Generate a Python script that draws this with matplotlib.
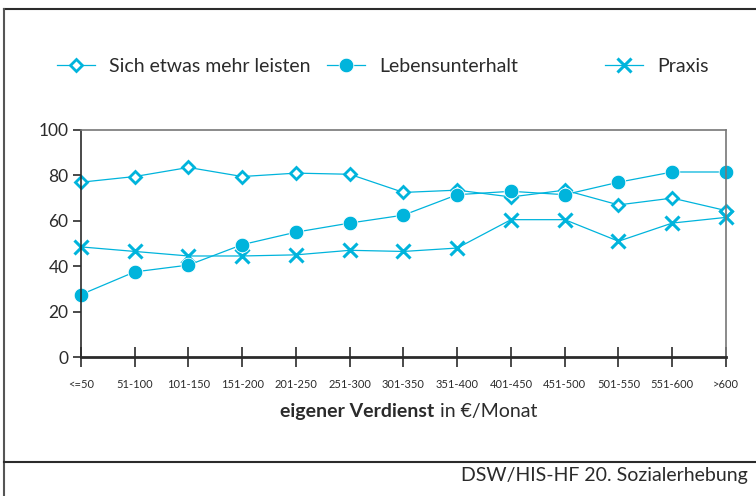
import matplotlib.pyplot as plt
from matplotlib.lines import Line2D
import numpy as np

plt.rcParams['font.family'] = ['Lato', 'DejaVu Sans']

categories = ['<=50', '51-100', '101-150', '151-200', '201-250', '251-300', '301-350',
              '351-400', '401-450', '451-500', '501-550', '551-600', '>600']
mehr_leisten = [77, 79.5, 83.5, 79.5, 81, 80.5, 72.5, 73.5, 70.5, 73.5, 67, 70, 64.5]
lebensunterhalt = [27.5, 37.5, 40.5, 49.5, 55, 59, 62.5, 71.5, 73, 71.5, 77, 81.5, 81.5]
praxis = [48.5, 46.5, 44.5, 44.5, 45, 47, 46.5, 48, 60.5, 60.5, 51, 59, 61.5]
y_ticks = [0, 20, 40, 60, 80, 100]

cyan = '#00B4DC'
dark = '#2b2b2b'

fig = plt.figure(figsize=(7.56, 4.96), dpi=100)
ax = fig.add_axes([81 / 756, 1 - 357 / 496, 645 / 756, 227 / 496])

x = np.arange(len(categories))
l1, = ax.plot(x, mehr_leisten, color=cyan, lw=0.9, marker='D', ms=6.5,
              mfc='white', mec=cyan, mew=2, label='Sich etwas mehr leisten', zorder=3)
l2, = ax.plot(x, lebensunterhalt, color=cyan, lw=0.9, marker='o', ms=10.5,
              mfc=cyan, mec='white', mew=0.6, label='Lebensunterhalt', zorder=4)
l3, = ax.plot(x, praxis, color=cyan, lw=0.9, marker='x', ms=9.5,
              mew=2.2, label='Praxis', zorder=3)

ax.set_xlim(0, len(categories) - 1)
ax.set_ylim(0, 100)
ax.set_yticks(y_ticks)
ax.set_xticks(x)
ax.set_xticklabels(categories, fontsize=8, color=dark)
ax.tick_params(axis='y', direction='out', length=6, width=1.2, color=dark,
               labelsize=12.5, labelcolor=dark, pad=3)
ax.tick_params(axis='x', direction='inout', length=14, width=1.2, color=dark, pad=9)

for side in ['top', 'right']:
    ax.spines[side].set_color('#777777')
    ax.spines[side].set_linewidth(1.2)
ax.spines['left'].set_color(dark)
ax.spines['left'].set_linewidth(1.2)
ax.spines['bottom'].set_color(dark)
ax.spines['bottom'].set_linewidth(2)
for sp in ax.spines.values():
    sp.set_zorder(5)
for ln in (l1, l2, l3):
    ln.set_clip_on(False)

# legend entries placed separately, as in the layout of the box
for handle, lx in [(l1, 57 / 756), (l2, 327 / 756), (l3, 605 / 756)]:
    fig.legend(handles=[handle], loc='center left', bbox_to_anchor=(lx, 1 - 66 / 496),
               frameon=False, fontsize=14, handlelength=1.95, handletextpad=0.72,
               borderaxespad=0, borderpad=0, labelcolor=dark)

# axis title: bold part + regular part
fig.text(434 / 756, 1 - 411 / 496, 'eigener Verdienst', fontsize=14, fontweight='bold',
         color=dark, ha='right', va='center')
fig.text(440 / 756, 1 - 411 / 496, 'in €/Monat', fontsize=14,
         color=dark, ha='left', va='center')

fig.text(748 / 756, 1 - 475 / 496, 'DSW/HIS-HF 20. Sozialerhebung', fontsize=14,
         color=dark, ha='right', va='center')

# surrounding frame and footer separator
fig.add_artist(Line2D([4 / 756, 1], [1 - 9 / 496] * 2, color=dark, lw=1.5))
fig.add_artist(Line2D([4 / 756] * 2, [0, 1 - 9 / 496], color='#555555', lw=1.5))
fig.add_artist(Line2D([4 / 756, 1], [1 - 462 / 496] * 2, color=dark, lw=1.5))

fig.savefig('out.png', dpi=100)
